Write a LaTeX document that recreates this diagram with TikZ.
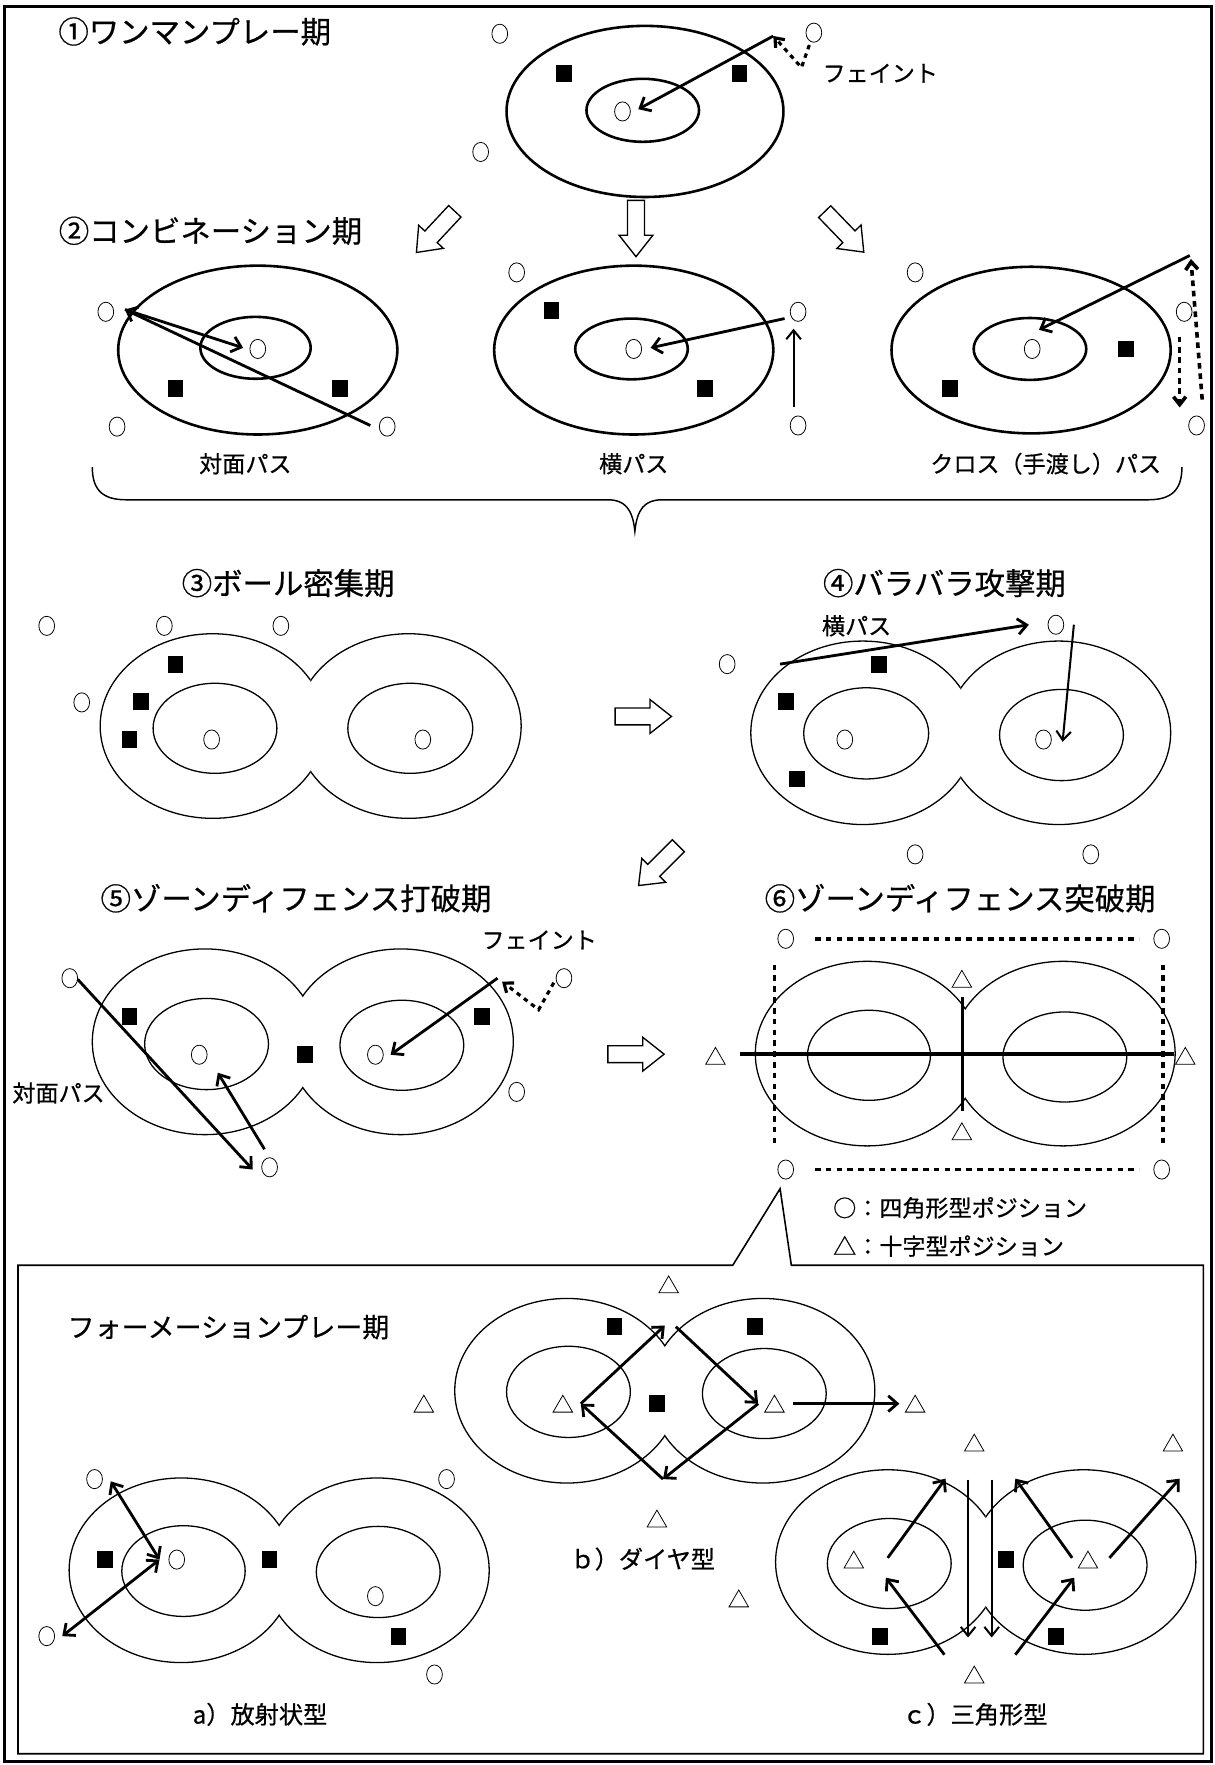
\documentclass[tikz,border=0pt]{standalone}
\usepackage{fontspec}
\setmainfont{Noto Sans CJK JP}[FakeBold=0.6]
\usetikzlibrary{arrows.meta,shapes.geometric}
\newcommand{\peanut}[5]{%
  \begin{scope}
    \clip (#1-#3-#4-6,#2-#5-6) rectangle (#1,#2+#5+6);
    \draw[lobe] (#1-#3,#2) ellipse [x radius=#4pt, y radius=#5pt];
  \end{scope}
  \begin{scope}
    \clip (#1,#2-#5-6) rectangle (#1+#3+#4+6,#2+#5+6);
    \draw[lobe] (#1+#3,#2) ellipse [x radius=#4pt, y radius=#5pt];
  \end{scope}}
\newcommand{\blockarr}[3]{%
  \begin{scope}[shift={(#1,#2)},rotate=#3]
    \draw[barr] (-25,-7.5) -- (6,-7.5) -- (6,-15) -- (25,0) -- (6,15) -- (6,7.5) -- (-25,7.5) -- cycle;
  \end{scope}}
\begin{document}
\begin{tikzpicture}[x=1pt,y=-1pt,
  ring/.style={line width=2.3pt},
  lobe/.style={line width=1.15pt},
  plr/.style={draw,ellipse,minimum width=14pt,minimum height=17pt,inner sep=0pt,line width=0.7pt},
  dfd/.style={fill=black,minimum width=14pt,minimum height=15pt,inner sep=0pt},
  tri/.style={draw,regular polygon,regular polygon sides=3,minimum size=20pt,inner sep=0pt,line width=0.7pt,yshift=-2.5pt},
  pass/.style={line width=2.5pt,-{Straight Barb[length=8pt,width=14pt]}},
  thinpass/.style={line width=1.8pt,-{Straight Barb[length=8pt,width=13pt]}},
  dpass/.style={line width=2.5pt,{Straight Barb[length=8pt,width=14pt]}-{Straight Barb[length=8pt,width=14pt]}},
  feint/.style={line width=2.8pt,dash pattern=on 4pt off 4pt,-{Straight Barb[length=7pt,width=11pt]}},
  dotln/.style={line width=3.2pt,dash pattern=on 5pt off 4.6pt},
  dotarr/.style={line width=3.2pt,dash pattern=on 5pt off 4.2pt,-{Straight Barb[length=7pt,width=11pt]}},
  thick3/.style={line width=3.4pt},
  barr/.style={line width=1.2pt},
  ttl/.style={font=\fontsize{27}{30}\selectfont,inner sep=0pt},
  lbl/.style={font=\fontsize{20.5}{22}\selectfont,inner sep=0pt},
  sublbl/.style={font=\fontsize{21.5}{24}\selectfont,inner sep=0pt},
  frame/.style={line width=2.4pt},
  box/.style={line width=1.4pt},
  brace/.style={line width=1.3pt}
]
\useasboundingbox (0,0) rectangle (1079,1568);
\draw[frame] (4,6) rectangle (1076,1565);

% ---------- Section 1
\node[ttl] (t1) at (173,28) {①ワンマンプレー期};
\draw[ring] (573,99) ellipse [x radius=123pt,y radius=76pt];
\draw[ring] (571,98) ellipse [x radius=50pt,y radius=28pt];
\node[plr] (s1p1) at (444,30) {};
\node[plr] (s1p2) at (723,29) {};
\node[plr] (s1p3) at (427,135) {};
\node[plr] (s1b) at (553,99) {};
\node[dfd] (s1d1) at (501,65) {};
\node[dfd] (s1d2) at (657,65) {};
\coordinate (s1f0) at (719,40);
\coordinate (s1f1) at (712,60);
\coordinate (s1f2) at (687,32);
\coordinate (s1e) at (567,97);
\draw[feint] (s1f0) -- (s1f1) -- (s1f2);
\draw[pass] (s1f2) -- (s1e);
\node[lbl] (s1l) at (782,65) {フェイント};

% ---------- Section 2
\node[ttl] (t2) at (187,205) {②コンビネーション期};
\blockarr{387}{206}{-133}
\blockarr{565}{203}{-90}
\blockarr{750}{206}{-46}
% left
\draw[ring] (229,311) ellipse [x radius=124pt,y radius=75pt];
\draw[ring] (227,309) ellipse [x radius=49pt,y radius=27.5pt];
\node[plr] (s2a1) at (94,277) {};
\node[plr] (s2a2) at (104,379) {};
\node[plr] (s2a3) at (344,379) {};
\node[plr] (s2ab) at (229,310) {};
\node[dfd] (s2ad1) at (156,345) {};
\node[dfd] (s2ad2) at (302,345) {};
\coordinate (s2c1) at (329,378);
\coordinate (s2c2) at (111,275);
\coordinate (s2c3) at (216,309);
\draw[pass] (s2c1) -- (s2c2);
\draw[pass] (s2c2) -- (s2c3);
\node[lbl] (s2al) at (218,412) {対面パス};
% middle
\draw[ring] (563,311) ellipse [x radius=124pt,y radius=75pt];
\draw[ring] (561,310) ellipse [x radius=50pt,y radius=27pt];
\node[plr] (s2b1) at (459,242) {};
\node[plr] (s2b2) at (709,277) {};
\node[plr] (s2b3) at (709,378) {};
\node[plr] (s2bb) at (563,310) {};
\node[dfd] (s2bd1) at (490,276) {};
\node[dfd] (s2bd2) at (626,345) {};
\coordinate (s2e1) at (697,283);
\coordinate (s2e2) at (578,309);
\coordinate (s2e3) at (705,362);
\coordinate (s2e4) at (705,292);
\draw[pass] (s2e1) -- (s2e2);
\draw[thinpass] (s2e3) -- (s2e4);
\node[lbl] (s2bl) at (563,412) {横パス};
% right
\draw[ring] (916,311) ellipse [x radius=124pt,y radius=74pt];
\draw[ring] (915,310) ellipse [x radius=50pt,y radius=27.5pt];
\node[plr] (s2c1p) at (813,242) {};
\node[plr] (s2c2p) at (1052,277) {};
\node[plr] (s2c3p) at (1063,378) {};
\node[plr] (s2cb) at (917,310) {};
\node[dfd] (s2cd1) at (1000,310) {};
\node[dfd] (s2cd2) at (844,345) {};
\coordinate (s2g1) at (1057,227);
\coordinate (s2g2) at (923,293);
\coordinate (s2g3) at (1068,355);
\coordinate (s2g4) at (1058,230);
\coordinate (s2g5) at (1048,299);
\coordinate (s2g6) at (1048,362);
\draw[pass] (s2g1) -- (s2g2);
\draw[dotarr] (s2g3) -- (s2g4);
\draw[dotarr] (s2g5) -- (s2g6);
\node[lbl] (s2cl) at (929,412) {クロス（手渡し）パス};
% brace
\draw[brace] (82,415) .. controls (82,436) and (92,444) .. (112,444) -- (540,444)
  .. controls (555,444) and (562,452) .. (564,472)
  .. controls (566,452) and (573,444) .. (588,444) -- (1020,444)
  .. controls (1040,444) and (1050,436) .. (1050,415);

% ---------- Section 3
\node[ttl] (t3) at (256,518) {③ボール密集期};
\peanut{276}{645}{87}{100}{82}
\draw[lobe] (191,647) ellipse [x radius=55pt,y radius=40pt];
\draw[lobe] (364.5,647) ellipse [x radius=55.5pt,y radius=40pt];
\node[plr] (s3p1) at (41.5,556) {};
\node[plr] (s3p2) at (146,556) {};
\node[plr] (s3p3) at (249.5,556) {};
\node[plr] (s3p4) at (72.6,624) {};
\node[plr] (s3p5) at (188,657) {};
\node[plr] (s3p6) at (375.6,657) {};
\node[dfd] (s3d1) at (156,590) {};
\node[dfd] (s3d2) at (125,623) {};
\node[dfd] (s3d3) at (115,657) {};
\blockarr{571.5}{636.5}{0}

% ---------- Section 4
\node[ttl] (t4) at (839,518) {④バラバラ攻撃期};
\peanut{853.5}{651}{87}{99.5}{81.5}
\draw[lobe] (769.5,651.5) ellipse [x radius=55.5pt,y radius=40.5pt];
\draw[lobe] (943,653) ellipse [x radius=55pt,y radius=40.5pt];
\node[plr] (s4p1) at (646,590) {};
\node[plr] (s4p2) at (938,555) {};
\node[plr] (s4p3) at (813,759) {};
\node[plr] (s4p4) at (969,759) {};
\node[plr] (s4p5) at (750.5,657) {};
\node[plr] (s4p6) at (927,657) {};
\node[dfd] (s4d1) at (781,590) {};
\node[dfd] (s4d2) at (698,623) {};
\node[dfd] (s4d3) at (708,692) {};
\coordinate (s4e1) at (693,590);
\coordinate (s4e2) at (914,555);
\coordinate (s4e3) at (954,555);
\coordinate (s4e4) at (944,659);
\draw[pass] (s4e1) -- (s4e2);
\draw[thinpass] (s4e3) -- (s4e4);
\node[lbl] (s4l) at (761,556) {横パス};
\blockarr{585}{769}{-135}

% ---------- Section 5
\node[ttl] (t5) at (263,798) {⑤ゾーンディフェンス打破期};
\peanut{269}{925.5}{87}{100}{82.5}
\draw[lobe] (183.5,927.5) ellipse [x radius=55pt,y radius=40.5pt];
\draw[lobe] (357,928.6) ellipse [x radius=55pt,y radius=40pt];
\node[plr] (s5p1) at (62,869) {};
\node[plr] (s5p2) at (501,869) {};
\node[plr] (s5p3) at (459,970) {};
\node[plr] (s5p4) at (239.5,1037) {};
\node[plr] (s5p5) at (177,937) {};
\node[plr] (s5p6) at (333.5,937) {};
\node[dfd] (s5d1) at (115,903) {};
\node[dfd] (s5d2) at (271,937) {};
\node[dfd] (s5d3) at (428,903) {};
\coordinate (s5e1) at (69,870);
\coordinate (s5e2) at (224.5,1039);
\coordinate (s5e3) at (235,1021);
\coordinate (s5e4) at (193.5,953);
\coordinate (s5f0) at (492,873);
\coordinate (s5f1) at (478.5,897);
\coordinate (s5f2) at (446,872);
\coordinate (s5f3) at (442,869);
\coordinate (s5f4) at (347,937);
\draw[pass] (s5e1) -- (s5e2);
\draw[pass] (s5e3) -- (s5e4);
\draw[feint] (s5f0) -- (s5f1) -- (s5f2);
\draw[pass] (s5f3) -- (s5f4);
\node[lbl] (s5l1) at (479,835) {フェイント};
\node[lbl] (s5l2) at (52,971) {対面パス};
\blockarr{565}{936.5}{0}

% ---------- Section 6
\node[ttl] (t6) at (853,798) {⑥ゾーンディフェンス突破期};
\peanut{857.5}{936}{87}{99.5}{82}
\draw[lobe] (772,937.5) ellipse [x radius=54.6pt,y radius=40pt];
\draw[lobe] (946,939) ellipse [x radius=55pt,y radius=40pt];
\coordinate (s6h1) at (657.5,936);
\coordinate (s6h2) at (1043,936);
\coordinate (s6v1) at (855,885.5);
\coordinate (s6v2) at (855,987);
\draw[thick3] (s6h1) -- (s6h2);
\draw[thick3] (s6v1) -- (s6v2);
\node[plr] (s6p1) at (698,834) {};
\node[plr] (s6p2) at (1032,834) {};
\node[plr] (s6p3) at (698,1039) {};
\node[plr] (s6p4) at (1032,1039) {};
\draw[dotln] (724,834) -- (1012,834);
\draw[dotln] (724,1039) -- (1012,1039);
\draw[dotln] (688,857) -- (688,1017);
\draw[dotln] (1033,857) -- (1033,1017);
\node[tri] (s6t1) at (854.5,869.5) {};
\node[tri] (s6t2) at (854.5,1005) {};
\node[tri] (s6t3) at (635.6,938) {};
\node[tri] (s6t4) at (1053,938) {};
\node[lbl,anchor=west] (s6k1) at (740,1073) {○：四角形型ポジション};
\node[lbl,anchor=west] (s6k2) at (740,1107) {△：十字型ポジション};

% ---------- Formation box
\draw[box] (16,1124) -- (651,1124) -- (693,1056) -- (703,1124) -- (1069,1124) -- (1069,1558) -- (16,1558) -- cycle;
\node[font=\fontsize{24}{26}\selectfont,inner sep=0pt] (t7) at (203,1179) {フォーメーションプレー期};

% a)
\peanut{248}{1395}{87}{99.6}{82}
\draw[lobe] (163,1395.7) ellipse [x radius=54.8pt,y radius=40.3pt];
\draw[lobe] (336,1396.5) ellipse [x radius=55pt,y radius=40.5pt];
\node[plr] (ap1) at (84,1314) {};
\node[plr] (ap2) at (396.7,1314) {};
\node[plr] (ap3) at (41.5,1453.5) {};
\node[plr] (ap4) at (386,1487.6) {};
\node[plr] (ap5) at (157,1385.5) {};
\node[plr] (ap6) at (333.5,1418) {};
\node[dfd] (ad1) at (93.4,1385.5) {};
\node[dfd] (ad2) at (239.5,1385.5) {};
\node[dfd] (ad3) at (354,1453.5) {};
\coordinate (ae1) at (98.4,1316);
\coordinate (ae2) at (141.7,1385.5);
\coordinate (ae3) at (55.3,1453.5);
\draw[dpass] (ae1) -- (ae2);
\draw[dpass] (ae2) -- (ae3);
\node[sublbl] (al) at (231,1523) {a）放射状型};

% b)
\peanut{590.6}{1235.5}{87}{99.6}{82}
\draw[lobe] (505,1236.5) ellipse [x radius=55pt,y radius=40.5pt];
\draw[lobe] (679,1238) ellipse [x radius=55pt,y radius=40pt];
\node[tri] (bt1) at (594,1141) {};
\node[tri] (bt2) at (500,1247) {};
\node[tri] (bt3) at (688,1247) {};
\node[tri] (bt4) at (813,1247) {};
\node[tri] (bt5) at (583.6,1349) {};
\node[tri] (bt6) at (376.5,1247) {};
\node[dfd] (bd1) at (546,1178.5) {};
\node[dfd] (bd2) at (671,1178.5) {};
\node[dfd] (bd3) at (583.7,1247) {};
\coordinate (bL) at (516,1247);
\coordinate (bT1) at (590.6,1177.6);
\coordinate (bT2) at (600.4,1178.6);
\coordinate (bR) at (673.5,1247);
\coordinate (bB) at (589,1314);
\coordinate (bO1) at (704.5,1247);
\coordinate (bO2) at (799,1247);
\draw[pass] (bL) -- (bT1);
\draw[pass] (bT2) -- (bR);
\draw[pass] (bR) -- (bB);
\draw[pass] (bB) -- (bL);
\draw[pass] (bO1) -- (bO2);
\node[sublbl] (bl) at (571,1385) {ｂ）ダイヤ型};

% c)
\peanut{875.7}{1387.7}{87}{99.7}{82}
\draw[lobe] (790,1389) ellipse [x radius=55pt,y radius=40pt];
\draw[lobe] (964,1390.5) ellipse [x radius=55pt,y radius=40pt];
\node[tri] (ct1) at (865.5,1281.6) {};
\node[tri] (ct2) at (1042,1281.6) {};
\node[tri] (ct3) at (656.3,1420) {};
\node[tri] (ct4) at (758.5,1385.5) {};
\node[tri] (ct5) at (966.5,1385.5) {};
\node[tri] (ct6) at (865.5,1487.6) {};
\node[dfd] (cd1) at (893.5,1385.5) {};
\node[dfd] (cd2) at (782,1453.5) {};
\node[dfd] (cd3) at (938,1453.5) {};
\coordinate (cA1) at (788.6,1384);
\coordinate (cA2) at (840,1313.6);
\coordinate (cB1) at (839,1470);
\coordinate (cB2) at (787,1401.6);
\coordinate (cC1) at (952.5,1384);
\coordinate (cC2) at (902,1313.6);
\coordinate (cD1) at (902,1470);
\coordinate (cD2) at (954.3,1401.6);
\coordinate (cE1) at (985.6,1384);
\coordinate (cE2) at (1048,1313.6);
\coordinate (cF1) at (860,1314.5);
\coordinate (cF2) at (860,1454.7);
\coordinate (cG1) at (881,1314.5);
\coordinate (cG2) at (881,1454.7);
\draw[pass] (cA1) -- (cA2);
\draw[pass] (cB1) -- (cB2);
\draw[pass] (cC1) -- (cC2);
\draw[pass] (cD1) -- (cD2);
\draw[pass] (cE1) -- (cE2);
\draw[thinpass] (cF1) -- (cF2);
\draw[thinpass] (cG1) -- (cG2);
\node[sublbl] (cl) at (866,1523) {ｃ）三角形型};
\end{tikzpicture}
\end{document}
